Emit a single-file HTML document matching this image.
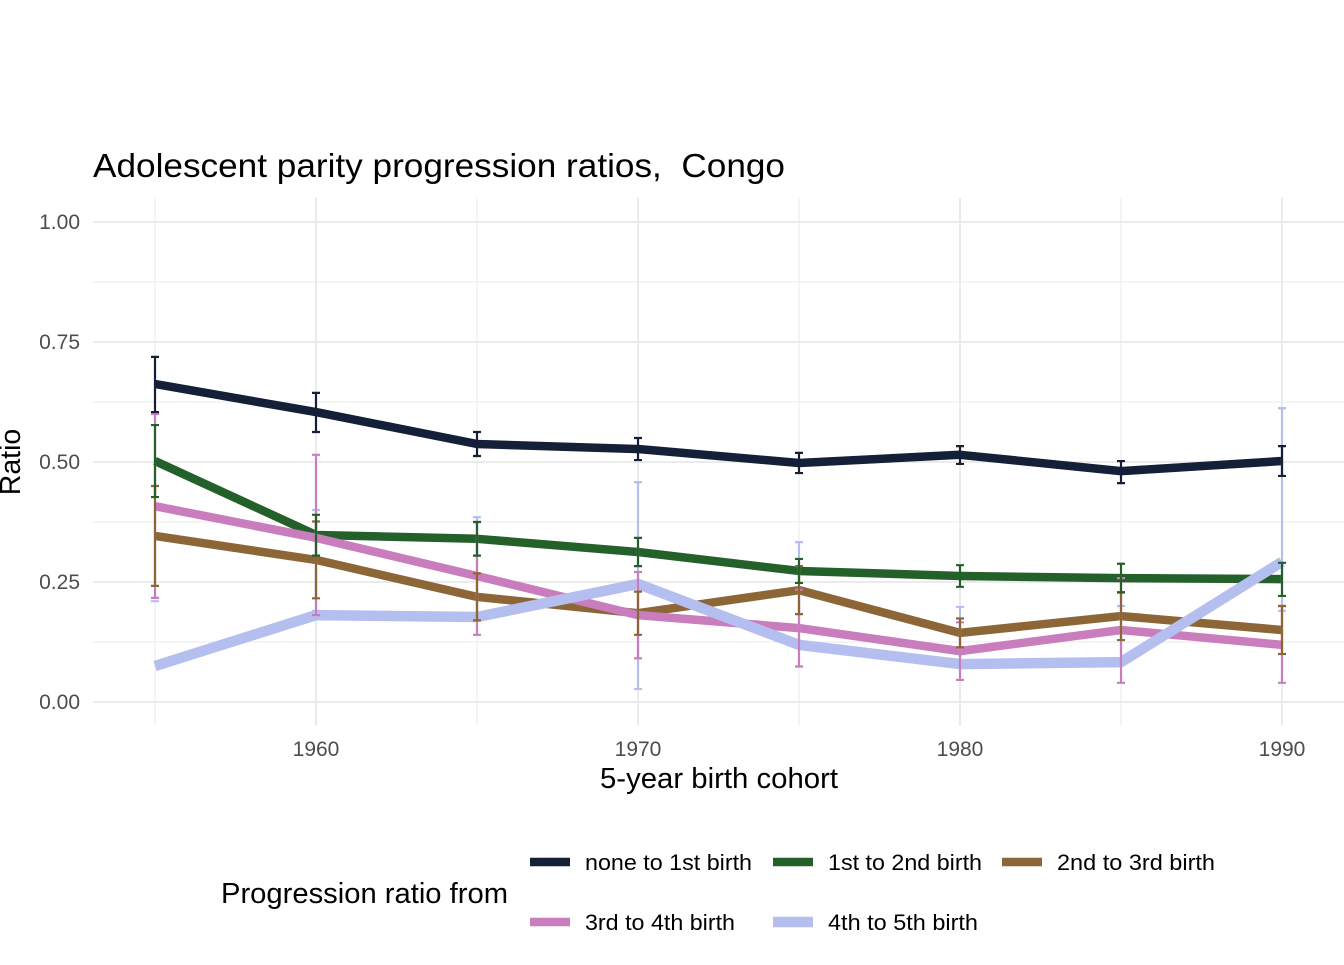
<!DOCTYPE html>
<html><head><meta charset="utf-8"><style>
body{margin:0;background:#fff;}
svg text{font-family:"Liberation Sans",Arial,sans-serif;white-space:pre;}
</style></head><body>
<svg id="chart" width="1344" height="960" xmlns="http://www.w3.org/2000/svg">
<rect width="1344" height="960" fill="#fff"/>
<text x="93" y="177" font-size="33" fill="#000" textLength="692" lengthAdjust="spacingAndGlyphs">Adolescent parity progression ratios,  Congo</text>
<g id="grid"></g>
<g id="lines"></g>
<g id="errs"></g>
<g id="axes"></g>
<text x="600" y="788" font-size="28.5" textLength="238" lengthAdjust="spacingAndGlyphs">5-year birth cohort</text>
<text transform="translate(20,462) rotate(-90)" font-size="28.5" text-anchor="middle">Ratio</text>
<text x="221" y="903" font-size="28.5" textLength="287" lengthAdjust="spacingAndGlyphs">Progression ratio from</text>
<g id="legend"></g>
</svg>
<script>
const years=[1955,1960,1965,1970,1975,1980,1985,1990];
const seriesNames=["none to 1st birth","1st to 2nd birth","2nd to 3rd birth","3rd to 4th birth","4th to 5th birth"];
const s1=[0.6625,0.604,0.5375,0.527,0.498,0.515,0.481,0.502];
const s1lo=[0.604,0.5625,0.5125,0.504,0.477,0.496,0.456,0.471];
const s1hi=[0.719,0.644,0.5625,0.55,0.519,0.533,0.502,0.533];
const s2=[0.502,0.348,0.340,0.3125,0.273,0.2625,0.258,0.256];
const s2lo=[0.427,0.305,0.305,0.283,0.248,0.24,0.228,0.221];
const s2hi=[0.577,0.39,0.375,0.342,0.298,0.285,0.288,0.29];
const s3=[0.346,0.296,0.219,0.185,0.233,0.144,0.179,0.15];
const s3lo=[0.242,0.216,0.17,0.14,0.183,0.114,0.129,0.1];
const s3hi=[0.45,0.376,0.268,0.23,0.283,0.174,0.229,0.2];
const s4=[0.408,0.342,0.2625,0.181,0.154,0.106,0.15,0.119];
const s4lo=[0.217,0.181,0.14,0.091,0.074,0.046,0.04,0.04];
const s4hi=[0.6,0.515,0.375,0.271,0.234,0.166,0.258,0.2];
const s5=[0.075,0.181,0.177,0.246,0.119,0.079,0.083,0.292];
const s5lo=[0.21,0.19,0.18,0.027,0.119,0.079,0.083,0.19];
const s5hi=[0.21,0.40,0.385,0.458,0.333,0.198,0.2,0.612];
const yTicks=[0,0.25,0.5,0.75,1.0];
const yTickLabels=["0.00","0.25","0.50","0.75","1.00"];
const xTicks=[1960,1970,1980,1990];
const colors=["#141f38","#23602a","#8d6638","#c97dbd","#b4bff0"];
const widths=[8.5,8.5,8.5,8.5,10.5];
const legendTextLen=[167,154,158,150,150];
const X=y=>316+(y-1960)*32.2;
const Y=v=>702-v*480;
const NS="http://www.w3.org/2000/svg";
function mk(tag,attrs,parent){const e=document.createElementNS(NS,tag);for(const k in attrs)e.setAttribute(k,attrs[k]);parent.appendChild(e);return e;}
const grid=document.getElementById('grid');
for(let v=0;v<=1.0001;v+=0.125){const major=Math.abs(v*4-Math.round(v*4))<1e-6;
 const l=mk('line',{x1:93,x2:1344,y1:Y(v),y2:Y(v),stroke:'#ebebeb','stroke-width':major?2:1},grid);
 
 }
for(let yr=1955;yr<=1990;yr+=5){const major=yr%10===0;
 const l=mk('line',{x1:X(yr),x2:X(yr),y1:198,y2:726,stroke:'#ebebeb','stroke-width':major?2:1},grid);
 
 }
const axes=document.getElementById('axes');
yTicks.forEach((v,i)=>{const t=mk('text',{x:80,y:Y(v)+7,'font-size':21,fill:'#4d4d4d','text-anchor':'end'},axes);t.textContent=yTickLabels[i];
 
 });
xTicks.forEach(v=>{const t=mk('text',{x:X(v),y:756,'font-size':21,fill:'#4d4d4d','text-anchor':'middle'},axes);t.textContent=v;
 
 });
const data=[s1,s2,s3,s4,s5],los=[s1lo,s2lo,s3lo,s4lo,s5lo],his=[s1hi,s2hi,s3hi,s4hi,s5hi];
const lines=document.getElementById('lines'),errs=document.getElementById('errs');
data.forEach((s,i)=>{
 const p=mk('polyline',{points:s.map((v,j)=>X(years[j])+','+Y(v)).join(' '),fill:'none',stroke:colors[i],'stroke-width':widths[i],'stroke-linejoin':'round'},lines);
 
 
});
[4,3,2,1,0].forEach(i=>{
 years.forEach((yr,j)=>{const x=X(yr),lo=Y(los[i][j]),hi=Y(his[i][j]);
  const g=mk('path',{d:`M${x},${hi}V${lo}M${x-4},${hi}H${x+4}M${x-4},${lo}H${x+4}`,stroke:colors[i],'stroke-width':2.2,fill:'none'},errs);
  
  });
});
const legend=document.getElementById('legend');
const lpos=[[530,862],[773,862],[1002,862],[530,922],[773,922]];
seriesNames.forEach((n,i)=>{const [x,y]=lpos[i];
 const g=mk('g',{},legend);
 
 
 mk('line',{x1:x,x2:x+40,y1:y,y2:y,stroke:colors[i],'stroke-width':widths[i]},g);
 const t=mk('text',{x:x+55,y:y+8,'font-size':22.5,fill:'#000',textLength:legendTextLen[i],lengthAdjust:'spacingAndGlyphs'},g);t.textContent=n;});
</script>
</body></html>
